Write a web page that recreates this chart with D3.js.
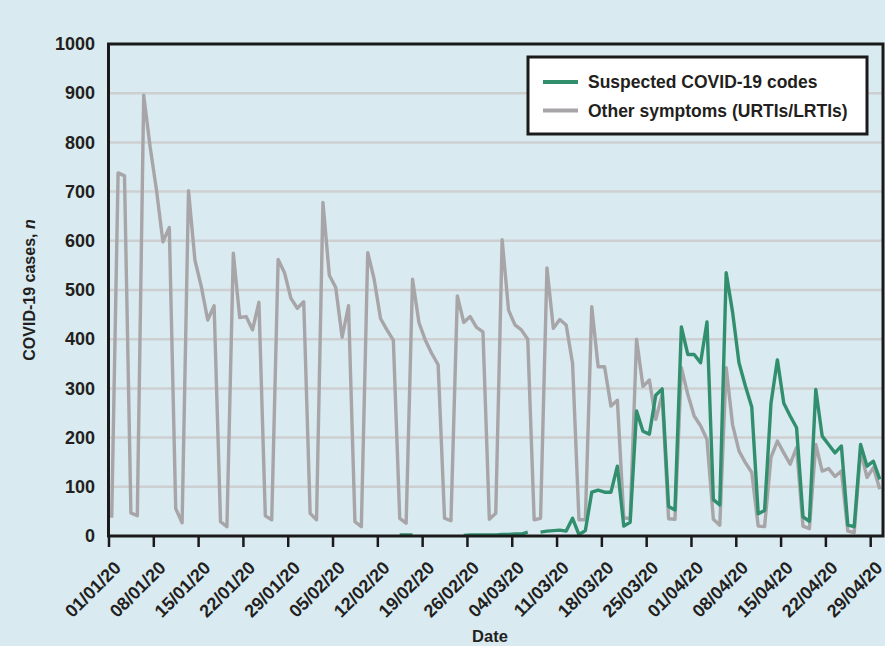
<!DOCTYPE html>
<html lang="en">
<head>
<meta charset="utf-8">
<title>COVID-19 cases</title>
<script src="https://d3js.org/d3.v7.min.js"></script>
<style>
  body { margin: 0; background: #d9eaf1; }
  text { font-family: "Liberation Sans", Arial, sans-serif; font-weight: bold; fill: #231f20; }
  .grid line { stroke: #cecfd1; stroke-width: 2.5; }
  .xaxis line { stroke: #1a1a1a; stroke-width: 2.5; }
  .series { fill: none; stroke-width: 3.4; stroke-linejoin: round; }
</style>
</head>
<body>
<div id="chart"></div>
<script>
var w = 885, h = 646;
var plotLeft = 108.5, plotRight = 883, plotTop = 44, plotBottom = 536;

// DATA
var startDate = new Date(Date.UTC(2020, 0, 1));
var endDate = new Date(Date.UTC(2020, 4, 1));
var days = d3.utcDay.range(startDate, endDate); // 01/01/20 .. 30/04/20

var otherSymptoms = [
  37, 738, 732, 47, 41,
  896, 791, 703, 598, 627, 56, 27,
  702, 561, 507, 439, 468, 29, 19,
  575, 444, 446, 419, 475, 41, 33,
  562, 535, 483, 463, 476, 46, 33,
  678, 530, 505, 404, 468, 29, 19,
  576, 522, 442, 419, 398, 36, 26,
  522, 434, 398, 371, 348, 36, 31,
  488, 434, 446, 424, 415, 34, 46,
  602, 459, 429, 419, 400, 33, 36,
  545, 422, 440, 429, 351, 33, 33,
  466, 344, 344, 264, 276, 37, 35,
  400, 304, 317, 237, 288, 35, 34,
  342, 288, 244, 224, 196, 34, 22,
  342, 226, 173, 149, 129, 20, 19,
  160, 193, 169, 146, 180, 20, 15,
  186, 132, 137, 121, 132, 10, 7,
  173, 119, 139, 95
];

var suspectedCovid = [
  null, null, null, null, null,
  null, null, null, null, null, null, null,
  null, null, null, null, null, null, null,
  null, null, null, null, null, null, null,
  null, null, null, null, null, null, null,
  null, null, null, null, null, null, null,
  null, null, null, null, null, 2, 2,
  2, null, null, null, null, null, null,
  null, 1, 2, 2, 2, 2, 2,
  3, 3, 4, 4, 8, null, 8,
  10, 11, 12, 10, 36, 3, 11,
  89, 93, 89, 89, 142, 20, 28,
  254, 213, 207, 286, 299, 60, 53,
  425, 369, 369, 352, 435, 74, 63,
  535, 455, 352, 305, 262, 45, 52,
  270, 358, 270, 244, 220, 39, 30,
  298, 203, 186, 169, 183, 22, 19,
  186, 142, 152, 115
];

var yTicks = [0, 100, 200, 300, 400, 500, 600, 700, 800, 900, 1000];
var xTickDates = d3.utcDay.range(startDate, endDate, 7);
var seriesNames = ["Suspected COVID-19 codes", "Other symptoms (URTIs/LRTIs)"];
var seriesColors = ["#318f6e", "#a7a5a7"];

// SCALES
var x = d3.scaleUtc().domain([startDate, endDate]).range([plotLeft, plotRight]);
var y = d3.scaleLinear().domain([0, 1000]).range([plotBottom, plotTop]);

var svg = d3.select("#chart").append("svg")
  .attr("width", w)
  .attr("height", h);

svg.append("rect").attr("width", w).attr("height", h).attr("fill", "#d9eaf1");

svg.append("clipPath").attr("id", "plotclip")
  .append("rect")
  .attr("x", plotLeft).attr("y", plotTop)
  .attr("width", plotRight - plotLeft).attr("height", plotBottom - plotTop);

// GRID
svg.append("g").attr("class", "grid")
  .selectAll("line")
  .data(yTicks.filter(function (d) { return d > 0 && d < 1000; }))
  .join("line")
  .attr("x1", plotLeft).attr("x2", plotRight)
  .attr("y1", function (d) { return y(d); })
  .attr("y2", function (d) { return y(d); });

// LINES (each day plotted at its middle)
var mid = function (i) { return x(d3.utcHour.offset(days[i], 12)); };
var line = d3.line()
  .defined(function (d) { return d != null; })
  .x(function (d, i) { return mid(i); })
  .y(function (d) { return y(d); });

var plot = svg.append("g").attr("clip-path", "url(#plotclip)");
plot.append("path").attr("class", "series")
  .attr("stroke", seriesColors[1])
  .attr("d", line(otherSymptoms));
plot.append("path").attr("class", "series")
  .attr("stroke", seriesColors[0])
  .attr("d", line(suspectedCovid));

// FRAME
svg.append("rect")
  .attr("x", plotLeft).attr("y", plotTop)
  .attr("width", plotRight - plotLeft).attr("height", plotBottom - plotTop)
  .attr("fill", "none").attr("stroke", "#1a1a1a").attr("stroke-width", 3);

// AXES
var xAxis = d3.axisBottom(x)
  .tickValues(xTickDates)
  .tickSize(11)
  .tickFormat(d3.utcFormat("%d/%m/%y"));

var gx = svg.append("g").attr("class", "xaxis")
  .attr("transform", "translate(0," + plotBottom + ")")
  .call(xAxis);
gx.select(".domain").remove();
gx.selectAll("text")
  .attr("x", 0).attr("y", 0).attr("dy", 0)
  .attr("text-anchor", "end")
  .attr("font-size", 18)
  .attr("transform", "translate(13,33) rotate(-45)");

var gy = svg.append("g")
  .attr("transform", "translate(" + plotLeft + ",0)")
  .call(d3.axisLeft(y).tickValues(yTicks).tickSize(0).tickPadding(13.5).tickFormat(d3.format("d")));
gy.select(".domain").remove();
gy.selectAll("text").attr("font-size", 18);

svg.append("text")
  .attr("x", 490).attr("y", 642)
  .attr("text-anchor", "middle")
  .attr("font-size", 16.5)
  .text("Date");

var ylab = svg.append("text")
  .attr("transform", "translate(35," + (plotTop + plotBottom) / 2 + ") rotate(-90)")
  .attr("text-anchor", "middle")
  .attr("font-size", 16);
ylab.append("tspan").text("COVID-19 cases, ");
ylab.append("tspan").attr("font-style", "italic").text("n");

// LEGEND
var legend = svg.append("g");
legend.append("rect")
  .attr("x", 528).attr("y", 57)
  .attr("width", 339).attr("height", 77)
  .attr("fill", "#ffffff").attr("stroke", "#1a1a1a").attr("stroke-width", 3);

var item = legend.selectAll("g.item")
  .data(seriesNames)
  .join("g").attr("class", "item")
  .attr("transform", function (d, i) { return "translate(0," + (82 + i * 28.5) + ")"; });
item.append("line")
  .attr("x1", 543).attr("x2", 578)
  .attr("stroke", function (d, i) { return seriesColors[i]; })
  .attr("stroke-width", 4);
item.append("text")
  .attr("x", 588).attr("dy", "0.35em")
  .attr("font-size", 17.5)
  .text(function (d) { return d; });
</script>
</body>
</html>
